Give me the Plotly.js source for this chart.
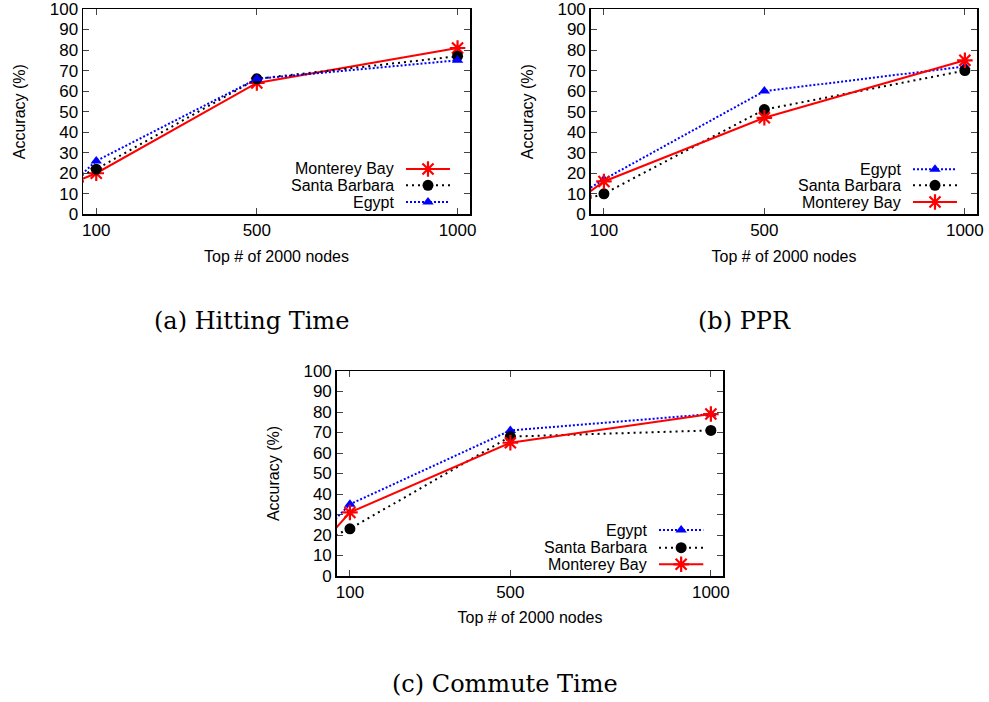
<!DOCTYPE html>
<html>
<head>
<meta charset="utf-8">
<script src="https://cdn.plot.ly/plotly-3.0.1.min.js"></script>
<style>html,body{margin:0;padding:0;background:#fff;}#chart{width:989px;height:702px;}</style>
</head>
<body>
<div id="chart"></div>
<script>
// ---- data ----
const xNodes = [50, 100, 500, 1000];
const xTicks = [100, 500, 1000];
const yTicks = [0,10,20,30,40,50,60,70,80,90,100];

const hitMonterey = [16, 20, 64, 81];
const hitSantaBarbara = [18, 22, 66, 77];
const hitEgypt = [17, 26, 66, 75];

const pprEgypt = [11, 17, 60, 72];
const pprSantaBarbara = [7, 10, 51, 70];
const pprMonterey = [9, 16, 47, 75];

const comEgypt = [25, 35, 71, 79];
const comSantaBarbara = [19, 23, 68, 71];
const comMonterey = [20, 31, 65, 79];

const captions = ["(a) Hitting Time", "(b) PPR", "(c) Commute Time"];
const xTitle = "Top # of 2000 nodes";
const yTitle = "Accuracy (%)";

// ---- styles ----
const W = 989, H = 702;
const px = v => v / W, py = v => 1 - v / H;
const styles = {
  "Monterey Bay": {line:{color:"#ff0000", width:2, dash:"solid"}, marker:{symbol:"asterisk-open", size:13, color:"#ff0000", line:{color:"#ff0000", width:2.2}}},
  "Santa Barbara": {line:{color:"#000000", width:2, dash:"2px,4px"}, marker:{symbol:"circle", size:11, color:"#000000", line:{width:0}}},
  "Egypt": {line:{color:"#0000ff", width:2, dash:"2px,2px"}, marker:{symbol:"triangle-up", size:10, color:"#0000ff", line:{width:0}}}
};

const panels = [
  {ax:"", series:[["Monterey Bay",hitMonterey],["Santa Barbara",hitSantaBarbara],["Egypt",hitEgypt]],
   dom:{x:[83,470], y:[9,214.3]}, leg:{tx:396, l0:406, l1:450, rows:[169,185.3,202]}, cap:{x:251.7, y:321}},
  {ax:"2", series:[["Egypt",pprEgypt],["Santa Barbara",pprSantaBarbara],["Monterey Bay",pprMonterey]],
   dom:{x:[590.7,977.3], y:[9,214.3]}, leg:{tx:903, l0:913, l1:957, rows:[169.3,185.3,202]}, cap:{x:744, y:321}},
  {ax:"3", series:[["Egypt",comEgypt],["Santa Barbara",comSantaBarbara],["Monterey Bay",comMonterey]],
   dom:{x:[336.7,723.3], y:[371,576]}, leg:{tx:649.3, l0:659, l1:703.3, rows:[530,547.7,564.3]}, cap:{x:504.7, y:684}}
];

const tickFont = {family:"Liberation Sans, Arial, sans-serif", size:17, color:"#000"};
const textFont = {family:"Liberation Sans, Arial, sans-serif", size:16, color:"#000"};
const data = [];
const layout = {
  width: W, height: H, margin:{l:0,r:0,t:0,b:0},
  paper_bgcolor:"#fff", plot_bgcolor:"rgba(0,0,0,0)", showlegend:false,
  annotations: [], shapes: [],
  xaxis4:{domain:[0,1], range:[0,1], visible:false, fixedrange:true},
  yaxis4:{domain:[0,1], range:[0,1], visible:false, fixedrange:true}
};

panels.forEach((p, i) => {
  const xa = "x" + p.ax, ya = "y" + p.ax;
  p.series.forEach(([name, vals]) => {
    const s = styles[name];
    data.push({type:"scatter", mode:"lines+markers", name:name, x:xNodes, y:vals,
      xaxis:xa, yaxis:ya, line:s.line, marker:s.marker, cliponaxis:true});
  });
  layout["xaxis" + p.ax] = {
    domain:[px(p.dom.x[0]), px(p.dom.x[1])], anchor:ya, range:[67,1031],
    tickvals:xTicks, ticktext:xTicks.map(String), ticks:"inside", ticklen:6, tickwidth:1,
    mirror:"ticks", showline:true, linecolor:"#000", linewidth:1.5, showgrid:false, zeroline:false,
    ticklabeloverflow:"allow",
    tickfont:tickFont, title:{text:xTitle, font:textFont, standoff:11}
  };
  layout["yaxis" + p.ax] = {
    domain:[py(p.dom.y[1]), py(p.dom.y[0])], anchor:xa, range:[0,100],
    tickvals:yTicks, ticks:"inside", ticklen:6, tickwidth:1,
    mirror:"ticks", showline:true, linecolor:"#000", linewidth:1.5, showgrid:false, zeroline:false,
    ticklabeloverflow:"allow",
    tickfont:tickFont, title:{text:yTitle, font:textFont, standoff:20}
  };
  // legend (custom: text left, sample right)
  p.series.forEach(([name], k) => {
    const s = styles[name];
    const yy = py(p.leg.rows[k]);
    layout.annotations.push({xref:"paper", yref:"paper", x:px(p.leg.tx), y:yy, xanchor:"right", yanchor:"middle",
      text:name, showarrow:false, font:textFont});
    const xm = (p.leg.l0 + p.leg.l1) / 2;
    data.push({type:"scatter", mode:"lines", x:[px(p.leg.l0), px(p.leg.l1)], y:[yy,yy],
      xaxis:"x4", yaxis:"y4", hoverinfo:"skip", line:s.line});
    data.push({type:"scatter", mode:"markers", x:[px(xm)], y:[yy],
      xaxis:"x4", yaxis:"y4", hoverinfo:"skip", marker:s.marker});
  });
  layout.annotations.push({xref:"paper", yref:"paper", x:px(p.cap.x), y:py(p.cap.y), xanchor:"center", yanchor:"middle",
    text:captions[i], showarrow:false, font:{family:"DejaVu Serif, serif", size:24, color:"#000"}});
});

Plotly.newPlot("chart", data, layout, {staticPlot:true, displayModeBar:false});
</script>
</body>
</html>
